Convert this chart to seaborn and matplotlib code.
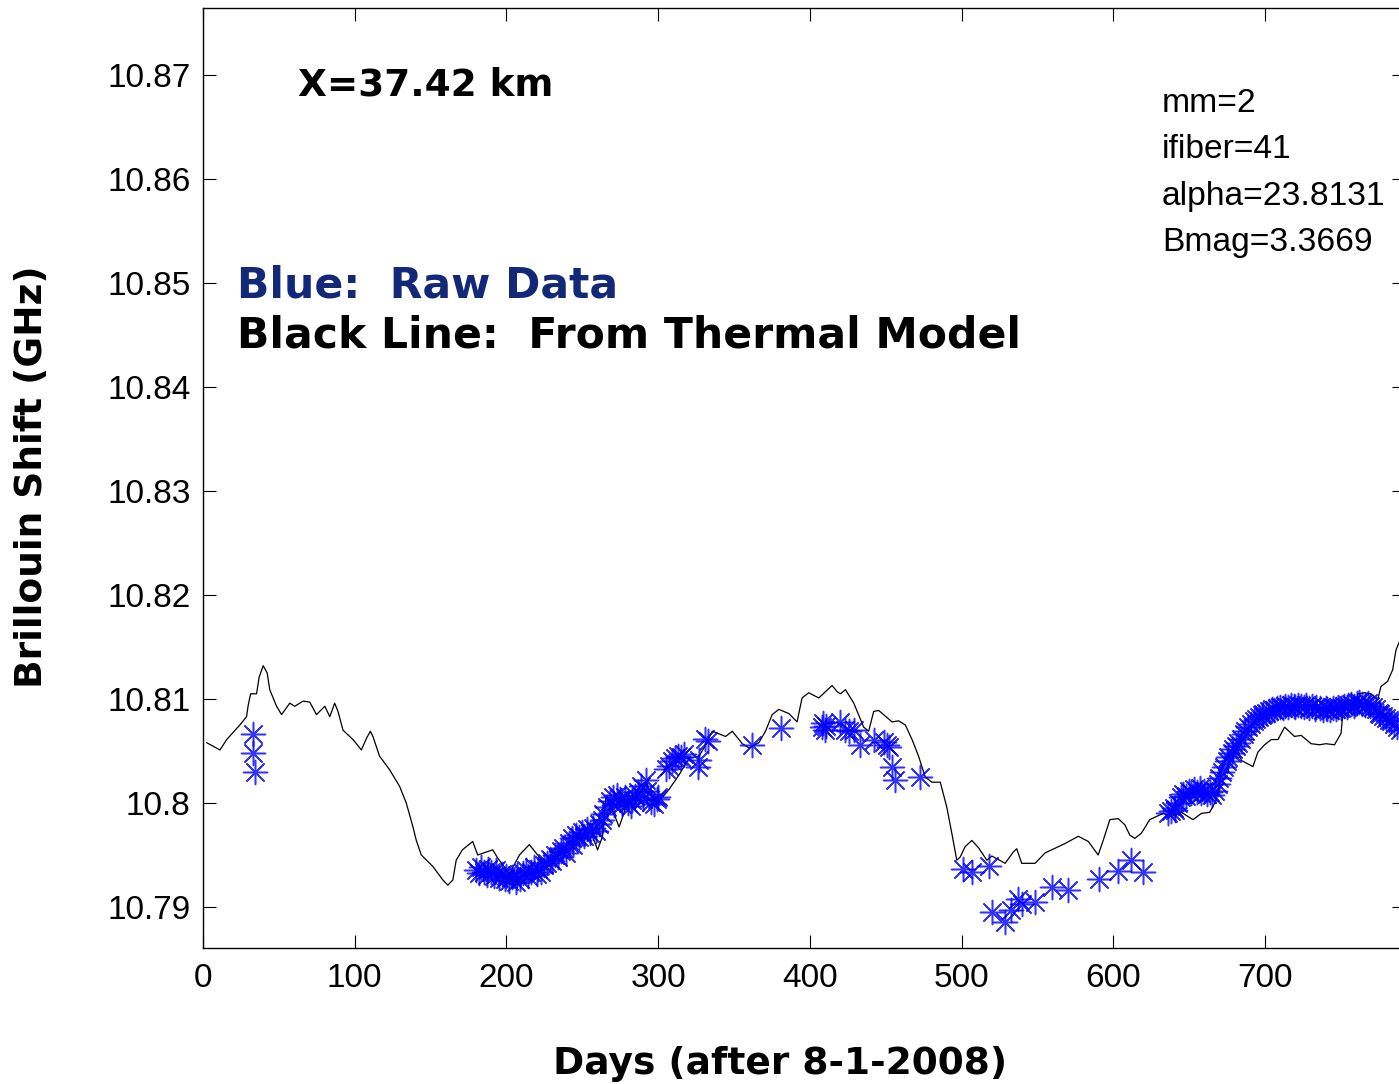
import numpy as np
import pandas as pd
import matplotlib
matplotlib.use("Agg")
import matplotlib.pyplot as plt
import seaborn as sns

# ---------------- data ----------------
model_days = [2.4, 11.2, 15.6, 24.3, 28.7, 29.8, 31.4, 35.3, 37.0, 39.7, 42.3, 44.0, 48.5, 51.8,
              57.2, 60.5, 66.0, 70.4, 74.8, 80.3, 83.6, 86.8, 89.0, 92.3, 98.9, 104.4, 107.7,
              110.3, 112.0, 116.4, 123.0, 129.6, 134.0, 138.4, 140.6, 143.9, 151.5, 158.1,
              161.4, 164.7, 166.9, 171.0, 177.8, 181.1, 191.0, 194.3, 202.0, 208.6, 215.1,
              221.7, 226.1, 231.6, 237.0, 243.6, 250.2, 255.7, 260.1, 263.4, 265.6, 270.0,
              274.3, 279.8, 285.3, 291.9, 298.5, 307.2, 313.8, 320.4, 327.0, 331.4, 335.7,
              344.5, 348.9, 355.5, 359.9, 366.4, 370.8, 375.2, 379.6, 386.2, 391.6, 394.9,
              399.3, 405.9, 414.7, 418.0, 420.2, 423.5, 429.0, 435.5, 438.8, 442.1, 445.4,
              454.2, 458.6, 463.0, 467.4, 471.7, 476.1, 480.5, 486.0, 490.3, 493.6, 496.9,
              499.1, 502.4, 506.8, 511.2, 516.7, 520.0, 528.8, 534.2, 536.4, 539.7, 548.5,
              555.1, 563.8, 568.2, 577.0, 583.6, 590.1, 593.4, 597.8, 603.3, 607.7, 611.0,
              614.3, 618.6, 624.1, 628.5, 632.9, 638.4, 645.0, 652.6, 658.1, 663.6, 668.0,
              671.3, 673.5, 679.0, 682.2, 684.4, 692.1, 695.4, 699.8, 704.2, 708.6, 713.0,
              719.5, 723.9, 730.5, 736.0, 740.3, 745.9, 750.2, 752.0, 754.6, 759.0, 761.2,
              765.6, 770.0, 774.3, 776.5, 780.9, 784.2, 786.4, 790.0]
model_shift = [10.8058, 10.8051, 10.8061, 10.8075, 10.8083, 10.8094, 10.8105, 10.8105, 10.8121,
               10.8132, 10.8125, 10.8109, 10.8093, 10.8085, 10.8096, 10.8093, 10.8098, 10.8097,
               10.8085, 10.8093, 10.8083, 10.8096, 10.8088, 10.8070, 10.8061, 10.8051, 10.8062,
               10.8069, 10.8064, 10.8045, 10.8032, 10.8016, 10.8000, 10.7977, 10.7964, 10.7950,
               10.7939, 10.7926, 10.7921, 10.7926, 10.7945, 10.7955, 10.7963, 10.7950, 10.7955,
               10.7947, 10.7932, 10.7950, 10.7960, 10.7948, 10.7940, 10.7956, 10.7952, 10.7961,
               10.7969, 10.7972, 10.7955, 10.7968, 10.8006, 10.7993, 10.7977, 10.8000, 10.8003,
               10.8020, 10.7998, 10.8013, 10.8027, 10.8043, 10.8045, 10.8056, 10.8069, 10.8064,
               10.8069, 10.8057, 10.8053, 10.8058, 10.8069, 10.8085, 10.8090, 10.8086, 10.8078,
               10.8101, 10.8106, 10.8101, 10.8113, 10.8107, 10.8105, 10.8109, 10.8096, 10.8073,
               10.8069, 10.8088, 10.8089, 10.8078, 10.8079, 10.8075, 10.8061, 10.8045, 10.8025,
               10.8020, 10.8020, 10.7996, 10.7971, 10.7945, 10.7948, 10.7958, 10.7964, 10.7957,
               10.7945, 10.7949, 10.7942, 10.7953, 10.7956, 10.7942, 10.7942, 10.7952, 10.7958,
               10.7961, 10.7968, 10.7963, 10.7950, 10.7964, 10.7984, 10.7985, 10.7979, 10.7969,
               10.7966, 10.7971, 10.7984, 10.7987, 10.7990, 10.7987, 10.7991, 10.7984, 10.7990,
               10.7991, 10.8003, 10.8029, 10.8041, 10.8048, 10.8051, 10.8041, 10.8035, 10.8049,
               10.8056, 10.8061, 10.8061, 10.8073, 10.8064, 10.8065, 10.8057, 10.8056, 10.8057,
               10.8056, 10.8067, 10.8096, 10.8099, 10.8089, 10.8105, 10.8106, 10.8105, 10.8099,
               10.8112, 10.8117, 10.8128, 10.8147, 10.8160]

raw_days = [32.7, 32.7, 34.4,
            180, 182, 183, 185, 187, 188, 190, 192, 193, 195, 197, 199, 200, 202, 204, 206, 207,
            209, 211, 213, 214, 216, 218, 220, 221, 223, 225, 227, 229, 230, 232, 234, 236, 237,
            239, 241, 243, 244, 246, 248, 250, 251, 253, 255, 257, 259, 261, 263, 264, 266, 268,
            270, 271, 273, 275, 276, 278, 280, 282, 283, 285, 287, 289, 290, 292, 293, 295, 297,
            299, 300, 305, 307, 309, 311, 313, 315, 317, 326, 327, 331, 333,
            362, 380.7, 408, 409, 410, 411, 420, 423.5, 425.7, 429, 433.3, 442.1, 448.7, 450.9,
            452, 454.2, 456.4, 472.8,
            501.3, 506.8, 517.8, 520, 528.8, 532.7, 537.5, 539.7, 548.5, 559.4, 570.4, 590.6,
            603.3, 612, 619.7,
            636, 638, 640, 641, 643, 645, 646, 648, 650, 651, 653, 655, 657, 658, 660, 662, 664,
            665, 667, 669, 670, 672, 673, 675, 676, 678, 679, 681, 682, 684, 686, 687, 689, 691,
            693, 694, 696, 698, 699, 701, 703, 705, 706, 708, 710, 712, 713, 715, 717, 719, 720,
            722, 724, 726, 727, 729, 731, 733, 734, 736, 738, 740, 741, 743, 745, 747, 748, 750,
            752, 754, 755, 757, 759, 761, 762, 764, 766, 768, 769, 771, 773, 775, 776, 778, 780,
            782, 783, 785, 787, 789]
raw_shift = [10.8066, 10.8048, 10.8030,
             10.7936, 10.7933, 10.7938, 10.7934, 10.7931, 10.7937, 10.7934, 10.7930, 10.7936,
             10.7928, 10.7932, 10.7927, 10.7930, 10.7925, 10.7929, 10.7924, 10.7931, 10.7927,
             10.7933, 10.7936, 10.7930, 10.7934, 10.7938, 10.7932, 10.7937, 10.7934, 10.7940,
             10.7942, 10.7946, 10.7944, 10.7950, 10.7948, 10.7954, 10.7957, 10.7952, 10.7962,
             10.7966, 10.7960, 10.7969, 10.7967, 10.7972, 10.7968, 10.7975, 10.7971, 10.7976,
             10.7973, 10.7980, 10.7984, 10.7989, 10.7996, 10.8002, 10.8006, 10.7998, 10.8008,
             10.8004, 10.7999, 10.8006, 10.8000, 10.7997, 10.8003, 10.8007, 10.8011, 10.8016,
             10.8004, 10.8022, 10.8012, 10.8001, 10.7999, 10.8004, 10.8006, 10.8033, 10.8036,
             10.8040, 10.8043, 10.8045, 10.8044, 10.8047, 10.8035, 10.8041, 10.8062, 10.8060,
             10.8056, 10.8072, 10.8073, 10.8077, 10.8070, 10.8074, 10.8078, 10.8070, 10.8069,
             10.8070, 10.8056, 10.8061, 10.8059, 10.8056, 10.8054, 10.8035, 10.8022, 10.8025,
             10.7937, 10.7934, 10.7939, 10.7895, 10.7886, 10.7897, 10.7908, 10.7903, 10.7905,
             10.7919, 10.7916, 10.7927, 10.7935, 10.7945, 10.7934,
             10.7990, 10.7992, 10.7995, 10.7993, 10.8000, 10.8006, 10.8009, 10.8007, 10.8012,
             10.8010, 10.8013, 10.8011, 10.8014, 10.8010, 10.8012, 10.8009, 10.8011, 10.8008,
             10.8012, 10.8018, 10.8024, 10.8030, 10.8035, 10.8040, 10.8044, 10.8048, 10.8052,
             10.8055, 10.8058, 10.8062, 10.8066, 10.8069, 10.8073, 10.8076, 10.8079, 10.8081,
             10.8083, 10.8085, 10.8086, 10.8087, 10.8088, 10.8090, 10.8089, 10.8091, 10.8092,
             10.8091, 10.8093, 10.8092, 10.8094, 10.8093, 10.8092, 10.8094, 10.8093, 10.8092,
             10.8094, 10.8091, 10.8093, 10.8090, 10.8092, 10.8091, 10.8089, 10.8091, 10.8090,
             10.8089, 10.8091, 10.8090, 10.8092, 10.8091, 10.8093, 10.8092, 10.8094, 10.8095,
             10.8093, 10.8096, 10.8097, 10.8095, 10.8094, 10.8096, 10.8093, 10.8092, 10.8090,
             10.8087, 10.8086, 10.8084, 10.8082, 10.8080, 10.8079, 10.8076, 10.8073, 10.8070]

x_ticks = [0, 100, 200, 300, 400, 500, 600, 700]
y_ticks = [10.79, 10.80, 10.81, 10.82, 10.83, 10.84, 10.85, 10.86, 10.87]
y_tick_labels = ["10.79", "10.8", "10.81", "10.82", "10.83", "10.84", "10.85", "10.86", "10.87"]

title_text = "X=37.42 km"
legend_blue = "Blue:  Raw Data"
legend_black = "Black Line:  From Thermal Model"
param_lines = ["mm=2", "ifiber=41", "alpha=23.8131", "Bmag=3.3669"]
x_label = "Days (after 8-1-2008)"
y_label = "Brillouin Shift (GHz)"

model_df = pd.DataFrame({"day": model_days, "shift": model_shift})
raw_df = pd.DataFrame({"day": raw_days, "shift": raw_shift})

# ---------------- style ----------------
sns.set_theme(style="ticks")
plt.rcParams["font.family"] = ["DejaVu Sans"]

W, H = 1399, 1084
fig = plt.figure(figsize=(W / 100, H / 100), dpi=100)
left_px, right_px, bottom_px, top_px = 203, 1404.6, 948, 8
ax = fig.add_axes([left_px / W, (H - bottom_px) / H,
                   (right_px - left_px) / W, (bottom_px - top_px) / H])

sns.lineplot(data=model_df, x="day", y="shift", ax=ax, color="black", linewidth=0.9,
             sort=False, estimator=None)
sns.scatterplot(data=raw_df, x="day", y="shift", ax=ax, marker=(8, 2, 0), s=300,
                color="#0000ff", linewidth=1.1, alpha=0.8, zorder=3)

px_per_day = 1.517
ax.set_xlim(0, (right_px - left_px) / px_per_day)
ax.set_ylim(10.79 - 41 / 10400, 10.87 + 67 / 10400)

ax.set_xticks(x_ticks)
ax.set_yticks(y_ticks)
ax.set_yticklabels(y_tick_labels)
tick_font = ["Liberation Sans", "DejaVu Sans"]
for lab in ax.get_xticklabels() + ax.get_yticklabels():
    lab.set_fontfamily(tick_font)
    lab.set_fontsize(24)
    lab.set_color("black")
ax.tick_params(axis="both", which="both", direction="in", length=9.5, width=0.8,
               top=True, right=True, colors="black")
ax.tick_params(axis="x", pad=11)
ax.tick_params(axis="y", pad=9)
for sp in ax.spines.values():
    sp.set_visible(True)
    sp.set_linewidth(1.0)
    sp.set_color("black")
ax.set_xlabel("")
ax.set_ylabel("")

# axis labels
fig.text(780 / W, 1 - 1074 / H, x_label, ha="center", va="baseline",
         fontsize=27, fontweight="bold", color="black")
fig.text(32 / W, 1 - 477 / H, y_label, ha="center", va="center", rotation=90,
         fontsize=27, fontweight="bold", color="black")

# in-plot annotations
fig.text(298 / W, 1 - 95 / H, title_text, ha="left", va="baseline",
         fontsize=26.9, fontweight="bold", color="black")
fig.text(237 / W, 1 - 297 / H, legend_blue, ha="left", va="baseline",
         fontsize=30.6, fontweight="bold", color="#142878")
fig.text(237 / W, 1 - 348 / H, legend_black, ha="left", va="baseline",
         fontsize=30.6, fontweight="bold", color="black")
for i, t in enumerate(param_lines):
    fig.text(1162 / W, 1 - (112 + 46.3 * i) / H, t, ha="left", va="baseline",
             fontsize=24.2, family=["Liberation Sans", "DejaVu Sans"], color="black")

fig.savefig("out.png", dpi=100, facecolor="white")
